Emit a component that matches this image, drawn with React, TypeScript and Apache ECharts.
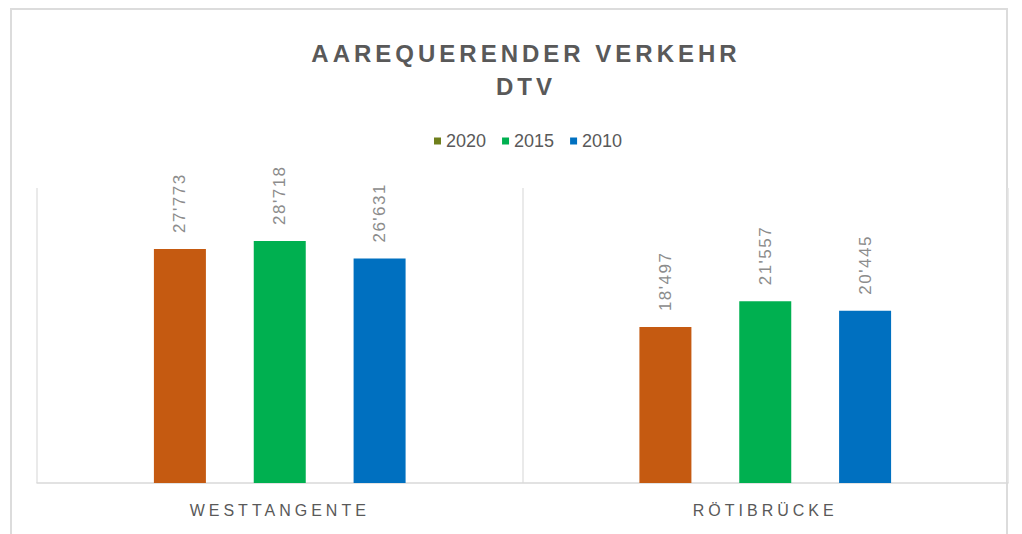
import React, { useEffect, useRef } from "react";
import * as echarts from "echarts";

const categories = ["WESTTANGENTE", "RÖTIBRÜCKE"];
const seriesNames = ["2020", "2015", "2010"];
const values2020 = [27773, 18497];
const values2015 = [28718, 21557];
const values2010 = [26631, 20445];
const barColors = ["#c55a11", "#00b050", "#0070c0"];
const legendColors = ["#6f7f1c", "#00b050", "#0070c0"];

const fmt = (n: number) => {
  const s = String(Math.round(n));
  return s.replace(/\B(?=(\d{3})+(?!\d))/g, "'");
};

export default function App() {
  const ref = useRef<HTMLDivElement>(null);
  useEffect(() => {
    if (!ref.current) return;
    const chart = echarts.init(ref.current, undefined, { renderer: "svg" });
    const allValues = [values2020, values2015, values2010];
    chart.setOption({
      animation: false,
      backgroundColor: "#ffffff",
      title: {
        text: "AAREQUERENDER VERKEHR\nDTV",
        left: 521,
        textAlign: "center",
        top: 32,
        textStyle: {
          fontFamily: "Liberation Sans",
          fontWeight: "bold",
          fontSize: 24,
          lineHeight: 33,
          color: "#595959",
        },
      },
      legend: {
        top: 127,
        left: 429,
        itemWidth: 7,
        itemHeight: 7,
        itemGap: 16,
        icon: "rect",
        textStyle: { fontFamily: "Liberation Sans", fontSize: 18, color: "#595959" },
        data: seriesNames.map((n, i) => ({ name: n, itemStyle: { color: legendColors[i] } })),
      },
      grid: { left: 37, right: 14, top: 188, bottom: 51 },
      xAxis: {
        type: "category",
        data: categories,
        axisLine: { lineStyle: { color: "#d9d9d9", width: 1.5 } },
        axisTick: { show: false },
        splitLine: { show: true, lineStyle: { color: "#e3e3e3", width: 1.5 } },
        axisLabel: {
          fontFamily: "Liberation Sans",
          fontSize: 16,
          color: "#595959",
          margin: 19,
        },
      },
      yAxis: { type: "value", min: 0, max: 35000, show: false, splitLine: { show: false } },
      graphic: [
        {
          type: "rect",
          shape: { x: 11, y: 9, width: 996, height: 540 },
          style: { fill: "none", stroke: "#dcdcdc", lineWidth: 2 },
          silent: true,
        },
      ],
      series: seriesNames.map((name, i) => ({
        name,
        type: "bar",
        data: allValues[i],
        barWidth: 52,
        barGap: "92%",
        itemStyle: { color: barColors[i] },
        label: {
          show: true,
          position: "top",
          rotate: 90,
          distance: 16,
          align: "left",
          verticalAlign: "middle",
          fontFamily: "Liberation Sans",
          fontSize: 17,
          color: "#8c8c8c",
          formatter: (p: any) => fmt(p.value),
        },
      })),
    });
    const svg = ref.current.querySelector("svg");
    if (svg) {
      svg.querySelectorAll("text").forEach((t) => {
        const c = t.textContent || "";
        const el = t as SVGTextElement;
        if (c.includes("AAREQUERENDER") || c === "DTV") {
          el.style.letterSpacing = "4px";
        } else if (categories.includes(c)) {
          el.style.letterSpacing = "4px";
        } else if (/^\d+'\d{3}$/.test(c)) {
          el.style.letterSpacing = "1.5px";
        }
      });
    }
    return () => chart.dispose();
  }, []);
  return (
    <div
      ref={ref}
      style={{ position: "fixed", left: 0, top: 0, width: 1022, height: 534 }}
    />
  );
}
